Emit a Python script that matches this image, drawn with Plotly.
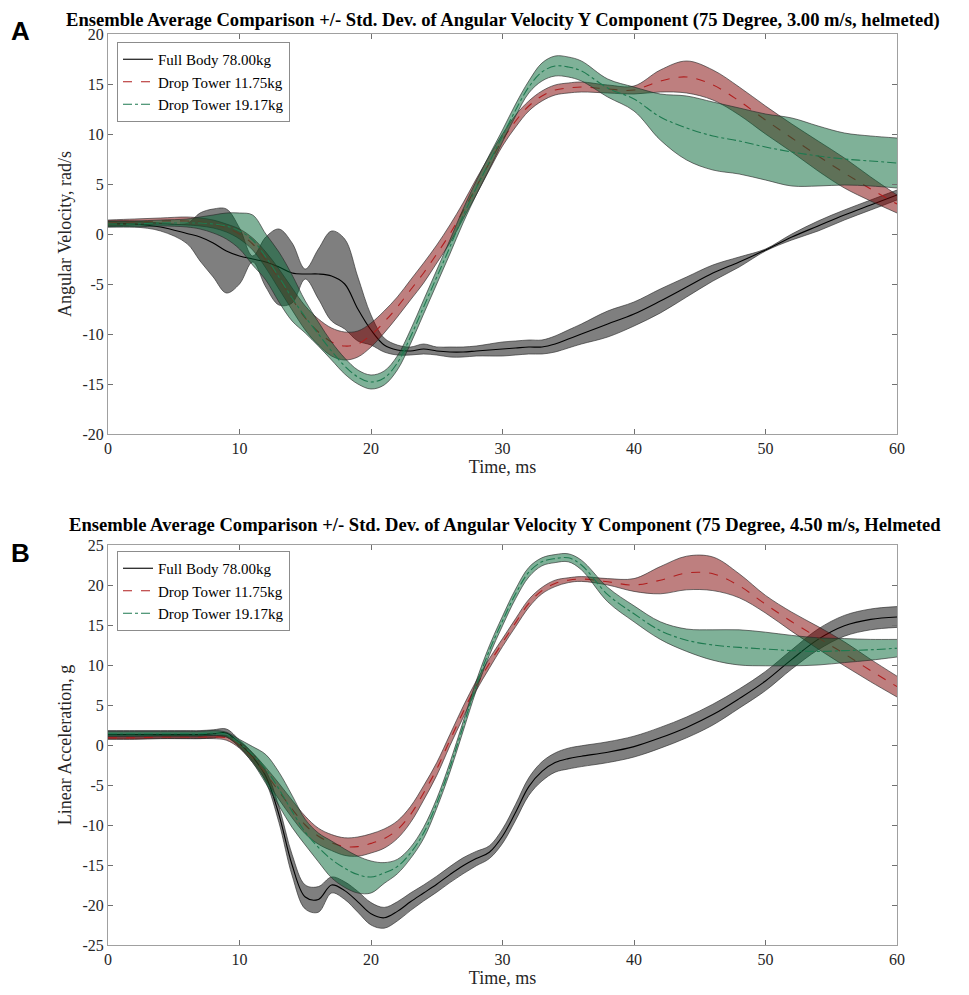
import plotly.graph_objects as go

# ---------------- DATA ----------------
t_a = [0, 2, 4, 6, 7, 8, 9, 10, 11, 12, 13, 14, 15, 16, 17, 18, 19, 20, 21, 22, 23, 24, 25, 26, 27, 28, 29, 30,
       31, 32, 33, 34, 35, 36, 38, 40, 42, 44, 46, 48, 50, 52, 54, 56, 58, 60]
t_b = t_a

fb_a_mean = [1.0, 1.0, 0.7, 0.05, -0.3, -0.9, -1.7, -2.2, -2.5, -2.8, -3.3, -3.9, -4.0, -4.0, -4.2, -5.0, -7.5, -9.6,
             -11.1, -11.6, -11.7, -11.5, -11.7, -11.8, -11.8, -11.7, -11.6, -11.5, -11.4, -11.3, -11.3, -11.0, -10.5,
             -10.0, -9.0, -8.0, -6.7, -5.3, -3.9, -2.8, -1.6, -0.3, 0.8, 1.9, 2.9, 3.9]
fb_a_std = [0.3, 0.3, 0.4, 1.0, 2.4, 3.4, 4.2, 2.8, 0.3, 2.5, 3.8, 3.0, 0.5, 2.5, 4.5, 4.5, 3.2, 1.5, 0.7, 0.5, 0.4,
            0.5, 0.4, 0.5, 0.5, 0.5, 0.6, 0.7, 0.7, 0.7, 0.7, 0.8, 0.9, 1.0, 1.3, 1.2, 1.2, 1.0, 0.8, 0.5, 0.1, 0.3,
            0.5, 0.5, 0.5, 0.5]
dt1_a_mean = [1.1, 1.2, 1.3, 1.3, 1.2, 1.0, 0.6, 0.0, -1.0, -2.6, -4.5, -6.5, -8.4, -9.8, -10.8, -11.2, -11.0, -10.1,
              -8.8, -7.3, -5.6, -3.9, -2.0, 0.0, 2.3, 4.7, 7.1, 9.4, 11.3, 12.8, 13.8, 14.4, 14.6, 14.7, 14.5, 14.4,
              15.3, 15.7, 14.9, 13.3, 11.4, 9.6, 7.8, 6.1, 4.5, 3.0]
dt1_a_std = [0.3, 0.3, 0.3, 0.4, 0.4, 0.4, 0.4, 0.5, 0.6, 0.8, 1.0, 1.1, 1.2, 1.3, 1.4, 1.4, 1.3, 1.2, 1.1, 1.0, 1.0,
             1.0, 0.9, 0.9, 0.8, 0.8, 0.7, 0.6, 0.6, 0.5, 0.5, 0.5, 0.5, 0.5, 0.4, 0.4, 1.1, 1.6, 1.5, 1.4, 1.4, 1.4,
             1.5, 1.5, 1.2, 0.9]
dt2_a_mean = [1.0, 1.0, 1.1, 1.1, 1.1, 1.0, 0.8, 0.3, -0.6, -2.3, -4.3, -6.4, -8.3, -10.0, -11.7, -13.2, -14.3, -14.8,
              -14.4, -12.9, -10.3, -7.3, -4.3, -1.3, 1.8, 4.6, 7.2, 9.8, 12.4, 14.7, 16.2, 16.8, 16.7, 16.3, 14.6, 13.5,
              11.7, 10.6, 9.8, 9.3, 8.7, 8.2, 7.8, 7.5, 7.3, 7.1]
dt2_a_std = [0.3, 0.3, 0.3, 0.4, 0.6, 0.9, 1.3, 1.8, 2.5, 2.3, 2.5, 2.3, 1.6, 1.2, 0.9, 0.8, 0.7, 0.7, 0.7, 0.7, 0.7,
             0.7, 0.7, 0.7, 0.7, 0.7, 0.7, 0.6, 0.6, 0.6, 0.9, 1.0, 1.0, 1.0, 0.9, 1.2, 2.3, 3.2, 3.4, 3.3, 3.3, 3.4,
             3.0, 2.6, 2.5, 2.5]

fb_b_mean = [1.3, 1.3, 1.3, 1.3, 1.3, 1.4, 1.5, 0.2, -1.5, -3.9, -8.7, -15.0, -19.0, -19.3, -17.5, -18.2, -19.6, -21.1,
             -21.6, -20.8, -19.6, -18.5, -17.4, -16.2, -15.1, -14.2, -13.4, -11.4, -8.4, -5.2, -3.3, -2.2, -1.7, -1.4,
             -0.9, -0.2, 0.9, 2.2, 3.8, 5.8, 8.0, 10.7, 13.2, 14.9, 15.7, 16.0]
fb_b_std = [0.5, 0.5, 0.5, 0.5, 0.5, 0.5, 0.5, 0.4, 0.5, 0.7, 1.0, 1.3, 1.5, 1.6, 1.0, 1.1, 1.3, 1.4, 1.3, 1.2, 1.1,
            1.0, 1.0, 1.0, 1.0, 0.9, 0.8, 0.9, 1.0, 1.1, 1.2, 1.2, 1.3, 1.3, 1.3, 1.3, 1.3, 1.3, 1.3, 1.2, 1.2, 1.2,
            1.3, 1.3, 1.3, 1.3]
dt1_b_mean = [0.9, 0.9, 1.0, 1.0, 1.0, 1.0, 0.9, 0.0, -1.6, -3.6, -5.8, -8.0, -10.0, -11.4, -12.2, -12.7, -12.7, -12.3,
              -11.7, -10.6, -8.7, -6.0, -3.0, 0.6, 4.1, 7.4, 10.2, 12.8, 15.3, 17.7, 19.3, 20.2, 20.6, 20.75, 20.4,
              20.0, 20.6, 21.5, 21.4, 19.9, 17.6, 15.4, 13.4, 11.4, 9.3, 7.3]
dt1_b_std = [0.2, 0.2, 0.2, 0.2, 0.2, 0.2, 0.3, 0.4, 0.6, 0.8, 1.0, 1.1, 1.1, 1.0, 1.0, 1.1, 1.2, 1.2, 1.2, 1.1, 1.0,
             0.9, 0.8, 0.7, 0.7, 0.6, 0.6, 0.5, 0.5, 0.5, 0.4, 0.4, 0.3, 0.3, 0.4, 0.8, 1.7, 2.1, 2.1, 1.5, 1.1, 1.2,
             1.4, 1.5, 1.4, 1.3]
dt2_b_mean = [1.4, 1.4, 1.4, 1.4, 1.4, 1.5, 1.3, 0.2, -1.2, -3.0, -5.5, -8.3, -10.9, -12.8, -14.3, -15.4, -16.2, -16.5,
              -16.0, -15.2, -13.5, -11.0, -7.3, -2.8, 2.3, 7.4, 11.8, 15.5, 18.9, 21.6, 22.9, 23.3, 23.4, 22.5, 18.8,
              16.4, 14.3, 13.1, 12.5, 12.2, 12.0, 11.8, 11.7, 11.8, 11.9, 12.1]
dt2_b_std = [0.3, 0.3, 0.3, 0.3, 0.3, 0.3, 0.3, 0.5, 1.0, 1.8, 2.1, 2.0, 1.6, 1.8, 2.3, 2.4, 2.3, 2.0, 1.3, 0.9, 0.7,
             0.7, 0.6, 0.6, 0.6, 0.6, 0.6, 0.6, 0.6, 0.6, 0.5, 0.5, 0.5, 0.6, 0.9, 1.0, 1.1, 1.4, 1.9, 2.2, 2.1, 1.9,
             1.7, 1.5, 1.3, 1.1]

series_names = ["Full Body 78.00kg", "Drop Tower 11.75kg", "Drop Tower 19.17kg"]
x_ticks = [0, 10, 20, 30, 40, 50, 60]
y_ticks_a = [-20, -15, -10, -5, 0, 5, 10, 15, 20]
y_ticks_b = [-25, -20, -15, -10, -5, 0, 5, 10, 15, 20, 25]
title_a = "Ensemble Average Comparison +/- Std. Dev. of Angular Velocity Y Component (75 Degree, 3.00 m/s, helmeted)"
title_b = "Ensemble Average Comparison +/- Std. Dev. of Angular Velocity Y Component (75 Degree, 4.50 m/s, Helmeted"

# ---------------- STYLE ----------------
fill_cols = ["rgba(0,0,0,0.5)", "rgba(125,0,0,0.5)", "rgba(0,100,50,0.5)"]
line_cols = ["#000000", "#B01E1E", "#1E7A50"]
dashes = ["solid", "dash", "dashdot"]
edge = dict(color="rgba(40,40,40,0.9)", width=0.7, shape="spline")
SERIF = "Liberation Serif, Times New Roman, serif"

fig = go.Figure()


def add_panel(t, means, stds, xa, ya, legend):
    for i, (m, s) in enumerate(zip(means, stds)):
        lo = [a - b for a, b in zip(m, s)]
        hi = [a + b for a, b in zip(m, s)]
        fig.add_trace(go.Scatter(x=t, y=lo, mode="lines", line=edge, xaxis=xa, yaxis=ya,
                                 showlegend=False, hoverinfo="skip"))
        fig.add_trace(go.Scatter(x=t, y=hi, mode="lines", line=edge, fill="tonexty", fillcolor=fill_cols[i],
                                 xaxis=xa, yaxis=ya, showlegend=False, hoverinfo="skip"))
        fig.add_trace(go.Scatter(x=t, y=m, mode="lines", name=series_names[i],
                                 line=dict(color=line_cols[i], width=1.1, dash=dashes[i], shape="spline"),
                                 xaxis=xa, yaxis=ya, legend=legend, showlegend=True))


add_panel(t_a, [fb_a_mean, dt1_a_mean, dt2_a_mean], [fb_a_std, dt1_a_std, dt2_a_std], "x", "y", "legend")
add_panel(t_b, [fb_b_mean, dt1_b_mean, dt2_b_mean], [fb_b_std, dt1_b_std, dt2_b_std], "x2", "y2", "legend2")

# page offset (browser body margin)
OFF = 8
W, H = 969, 995
L, R, T, B = 108 - OFF, 72 + OFF, 34 - OFF, 50 + OFF
ph = H - T - B
pw = W - L - R


def px2x(px):
    return (px - OFF - L) / pw


def px2y(py):
    return (H - B - (py - OFF)) / ph


dom_a = [px2y(434), px2y(34)]
dom_b = [px2y(945), px2y(545)]

axis_common = dict(showline=True, linecolor="#A0A0A0", linewidth=1, mirror="ticks", ticks="inside",
                   ticklen=5, tickcolor="#707070", showgrid=False, zeroline=False, automargin=False,
                   tickfont=dict(family=SERIF, size=16, color="#262626"))

leg_common = dict(xanchor="left", yanchor="top", bgcolor="white", bordercolor="#8C8C8C", borderwidth=1,
                  font=dict(family=SERIF, size=15, color="#000000"), tracegroupgap=0, itemwidth=30,
                  traceorder="normal")

fig.update_layout(
    width=W, height=H, margin=dict(l=L, r=R, t=T, b=B, autoexpand=False),
    plot_bgcolor="white", paper_bgcolor="white",
    xaxis=dict(axis_common, domain=[0, 1], range=[0, 60], anchor="y", tickvals=x_ticks,
               title=dict(text="Time, ms", font=dict(family=SERIF, size=18, color="#262626"), standoff=4)),
    yaxis=dict(axis_common, domain=dom_a, range=[-20, 20], anchor="x", tickvals=y_ticks_a,
               ticktext=[str(v) for v in y_ticks_a],
               title=dict(text="Angular Velocity, rad/s", font=dict(family=SERIF, size=18, color="#262626"),
                          standoff=6)),
    xaxis2=dict(axis_common, domain=[0, 1], range=[0, 60], anchor="y2", tickvals=x_ticks,
                title=dict(text="Time, ms", font=dict(family=SERIF, size=18, color="#262626"), standoff=4)),
    yaxis2=dict(axis_common, domain=dom_b, range=[-25, 25], anchor="x2", tickvals=y_ticks_b,
                ticktext=[str(v) for v in y_ticks_b],
                title=dict(text="Linear Acceleration, g", font=dict(family=SERIF, size=18, color="#262626"),
                           standoff=6)),
    legend=dict(leg_common, x=px2x(117), y=px2y(42)),
    legend2=dict(leg_common, x=px2x(117), y=px2y(551)),
    showlegend=True,
)

fig.add_annotation(text="<b>" + title_a + "</b>", x=px2x(64), y=px2y(20), xref="paper", yref="paper",
                   xanchor="left", yanchor="middle", showarrow=False,
                   font=dict(family=SERIF, size=18.6, color="#000000"))
fig.add_annotation(text="<b>" + title_b + "</b>", x=px2x(67), y=px2y(525), xref="paper", yref="paper",
                   xanchor="left", yanchor="middle", showarrow=False,
                   font=dict(family=SERIF, size=18.6, color="#000000"))
fig.add_annotation(text="<b>A</b>", x=px2x(20), y=px2y(31), xref="paper", yref="paper",
                   xanchor="center", yanchor="middle", showarrow=False,
                   font=dict(family="Liberation Sans, Arial, sans-serif", size=26, color="#000000"))
fig.add_annotation(text="<b>B</b>", x=px2x(20), y=px2y(553), xref="paper", yref="paper",
                   xanchor="center", yanchor="middle", showarrow=False,
                   font=dict(family="Liberation Sans, Arial, sans-serif", size=26, color="#000000"))

fig.write_html("out.html")
